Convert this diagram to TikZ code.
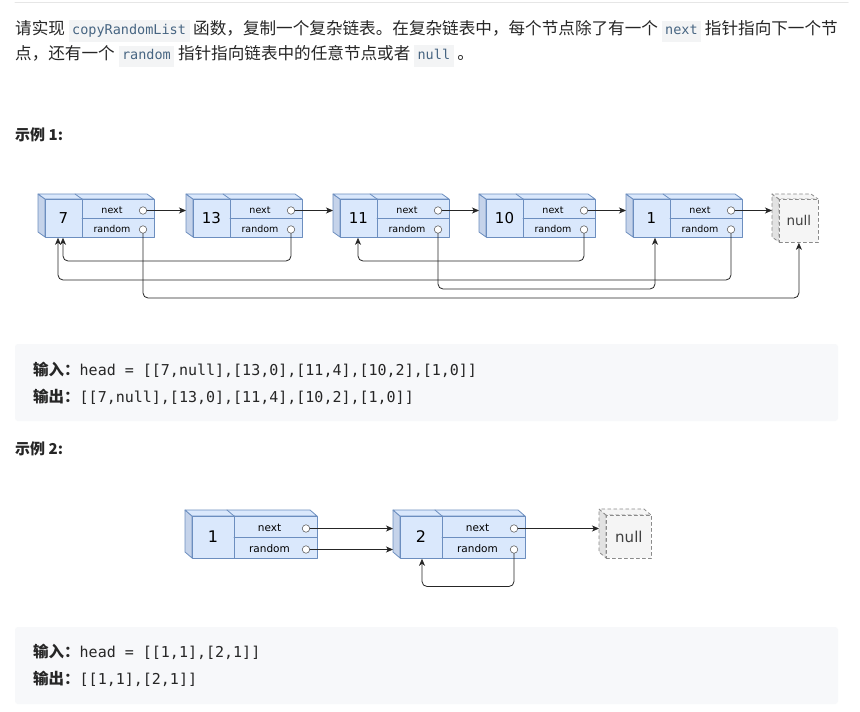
\documentclass[tikz,border=0pt]{standalone}
\usepackage{fontspec}
\setmainfont{Noto Sans CJK SC}
\newfontfamily\codefont{DejaVu Sans Mono}
\newfontfamily\diafont{DejaVu Sans}
\usetikzlibrary{arrows.meta}

\definecolor{nodefill}{HTML}{DAE8FC}
\definecolor{nodeline}{HTML}{6C8EBF}
\definecolor{nodeside}{HTML}{C5D3EA}
\definecolor{nullfill}{HTML}{F5F5F5}
\definecolor{nullside}{HTML}{E2E2E2}
\definecolor{nullline}{HTML}{8A8A8A}
\definecolor{codebg}{HTML}{F3F4F5}
\definecolor{codefg}{HTML}{476582}
\definecolor{boxbg}{HTML}{F7F8FA}
\definecolor{textfg}{HTML}{262626}
\definecolor{rulegray}{HTML}{E6E6E6}

% inline code span
\newcommand{\code}[1]{{\setlength{\fboxsep}{3.5pt}\colorbox{codebg}{\textcolor{codefg}{\codefont\fontsize{13.5}{13.5}\selectfont\strut #1}}}}

\tikzset{
  cubefront/.style={draw=nodeline, fill=nodefill, line width=0.8pt, inner sep=0pt, anchor=north west},
  cubeface/.style={draw=nodeline, fill=nodeside, line width=0.8pt, line join=round},
  cubetop/.style={draw=nodeline, fill=nodefill, line width=0.8pt, line join=round},
  cubeline/.style={draw=nodeline, line width=0.8pt},
  nullfront/.style={draw=nullline, fill=nullfill, dashed, line width=0.8pt, inner sep=0pt, anchor=north west, text=black!75},
  nullface/.style={draw=nullline, fill=nullside, dashed, line width=0.8pt, line join=round},
  nulltop/.style={draw=nullline, fill=nullfill, dashed, line width=0.8pt, line join=round},
  ptr/.style={circle, draw=black!60, fill=white, minimum size=7.5pt, inner sep=0pt, line width=0.6pt},
  link/.style={draw=black!85, line width=0.8pt, rounded corners=5pt, -{Stealth[length=7pt,width=6pt,inset=2pt]}},
  textline/.style={anchor=west, inner sep=0pt, text=textfg, font=\fontsize{16.6}{16.6}\selectfont},
  headline/.style={anchor=west, inner sep=0pt, text=textfg, font=\bfseries\fontsize{15}{15}\selectfont},
  ioline/.style={anchor=west, inner sep=0pt, text=textfg, font=\fontsize{15.5}{15.5}\selectfont},
}

% name, x, y (front top left), width, height, value column, value, depth
\newcommand{\listbox}[8]{%
  \begin{scope}[shift={(#2,#3)}]
    \filldraw[cubeface] (0,0) -- (-7,-#8) -- (-7,#5-#8) -- (0,#5) -- cycle;
    \filldraw[cubetop] (0,0) -- (-7,-#8) -- (#4-7,-#8) -- (#4,0) -- cycle;
    \draw[cubeline] (#6,0) -- (#6-7,-#8);
    \node[cubefront, minimum width=#4, minimum height=#5] (#1) at (0,0) {};
    \draw[cubeline] (#6,0) -- (#6,#5) (#6,#5/2) -- (#4,#5/2);
    \node[vallabel] (#1-val) at (#6/2,#5/2) {#7};
    \node[ptrlabel] (#1-nlbl) at ({(#6+#4-12)/2},#5/4+1.5) {next};
    \node[ptrlabel] (#1-rlbl) at ({(#6+#4-12)/2},3*#5/4+1) {random};
    \node[ptr] (#1-next) at (#4-11,#5/4+2) {};
    \node[ptr] (#1-rand) at (#4-11,3*#5/4+2) {};
    \coordinate (#1-in) at (-7,#5/4+2);
  \end{scope}}

% name, x, y (front top left), width, height, depth
\newcommand{\nullbox}[6]{%
  \begin{scope}[shift={(#2,#3)}]
    \filldraw[nullface] (0,0) -- (-7,-#6) -- (-7,#5-#6) -- (0,#5) -- cycle;
    \filldraw[nulltop] (0,0) -- (-7,-#6) -- (#4-7,-#6) -- (#4,0) -- cycle;
    \node[nullfront, minimum width=#4, minimum height=#5] (#1) at (0,0) {null};
    \coordinate (#1-in) at (-7,12);
  \end{scope}}

\begin{document}
\begin{tikzpicture}[x=1pt, y=-1pt, line join=round, line cap=round, >=Stealth]
  \useasboundingbox[fill=white] (0,0) rectangle (860,712);

  % problem statement
  \draw[rulegray, line width=1pt] (15,2) -- (848,2);
  \node[textline] (desc1) at (15,31) {请实现 \code{copyRandomList} 函数，复制一个复杂链表。在复杂链表中，每个节点除了有一个 \code{next} 指针指向下一个节};
  \node[textline] (desc2) at (15,56) {点，还有一个 \code{random} 指针指向链表中的任意节点或者 \code{null} 。};

  % example 1
  \node[headline] (head1) at (15,135) {示例 1:};
  \begin{scope}[vallabel/.style={font=\diafont\fontsize{15}{15}\selectfont},
                ptrlabel/.style={font=\diafont\fontsize{9.5}{9.5}\selectfont}]
    \listbox{n7}{45}{199}{109}{38}{37}{7}{5}
    \listbox{n13}{193}{199}{109}{38}{37}{13}{5}
    \listbox{n11}{340}{199}{109}{38}{37}{11}{5}
    \listbox{n10}{486}{199}{109}{38}{37}{10}{5}
    \listbox{n1}{633}{199}{109}{38}{37}{1}{5}
  \end{scope}
  \begin{scope}[nullfront/.append style={font=\diafont\fontsize{13.5}{13.5}\selectfont}]
    \nullbox{nullA}{779}{199}{39}{43}{5}
  \end{scope}

  % next pointers
  \draw[link] (n7-next) -- (n7-next -| n13-in);
  \draw[link] (n13-next) -- (n13-next -| n11-in);
  \draw[link] (n11-next) -- (n11-next -| n10-in);
  \draw[link] (n10-next) -- (n10-next -| n1-in);
  \draw[link] (n1-next) -- (n1-next -| nullA-in);

  % random pointers
  \draw[link] (n13-rand) -- ++(0,31.5) -| ([xshift=18pt]n7.south west);
  \draw[link] (n10-rand) -- ++(0,31.5) -| ([xshift=18pt]n11.south west);
  \draw[link] (n1-rand) -- ++(0,50.5) -| ([xshift=13pt]n7.south west);
  \draw[link] (n11-rand) -- ++(0,59.5) -| ([xshift=22pt]n1.south west);
  \draw[link] (n7-rand) -- ++(0,68.5) -| (nullA.south);

  \fill[boxbg, rounded corners=3pt] (15,344) rectangle (838,421);
  \node[ioline] (in1) at (33,370) {\textbf{输入：}{\codefont\fontsize{15}{15}\selectfont head = [[7,null],[13,0],[11,4],[10,2],[1,0]]}};
  \node[ioline] (out1) at (33,397) {\textbf{输出：}{\codefont\fontsize{15}{15}\selectfont [[7,null],[13,0],[11,4],[10,2],[1,0]]}};

  % example 2
  \node[headline] (head2) at (15,449) {示例 2:};
  \begin{scope}[vallabel/.style={font=\diafont\fontsize{16}{16}\selectfont},
                ptrlabel/.style={font=\diafont\fontsize{10.5}{10.5}\selectfont}]
    \listbox{m1}{192}{516}{125}{42}{42}{1}{6}
    \listbox{m2}{400}{516}{125}{42}{42}{2}{6}
  \end{scope}
  \begin{scope}[nullfront/.append style={font=\diafont\fontsize{15}{15}\selectfont}]
    \nullbox{nullB}{606}{515}{45}{43}{6}
  \end{scope}

  \draw[link] (m1-next) -- (m1-next -| m2-in);
  \draw[link] (m1-rand) -- (m1-rand -| m2-in);
  \draw[link] (m2-next) -- (m2-next -| nullB-in);
  \draw[link] (m2-rand) -- ++(0,37) -| ([xshift=22pt]m2.south west);

  \fill[boxbg, rounded corners=3pt] (15,627) rectangle (838,704);
  \node[ioline] (in2) at (33,652) {\textbf{输入：}{\codefont\fontsize{15}{15}\selectfont head = [[1,1],[2,1]]}};
  \node[ioline] (out2) at (33,679) {\textbf{输出：}{\codefont\fontsize{15}{15}\selectfont [[1,1],[2,1]]}};
\end{tikzpicture}
\end{document}
